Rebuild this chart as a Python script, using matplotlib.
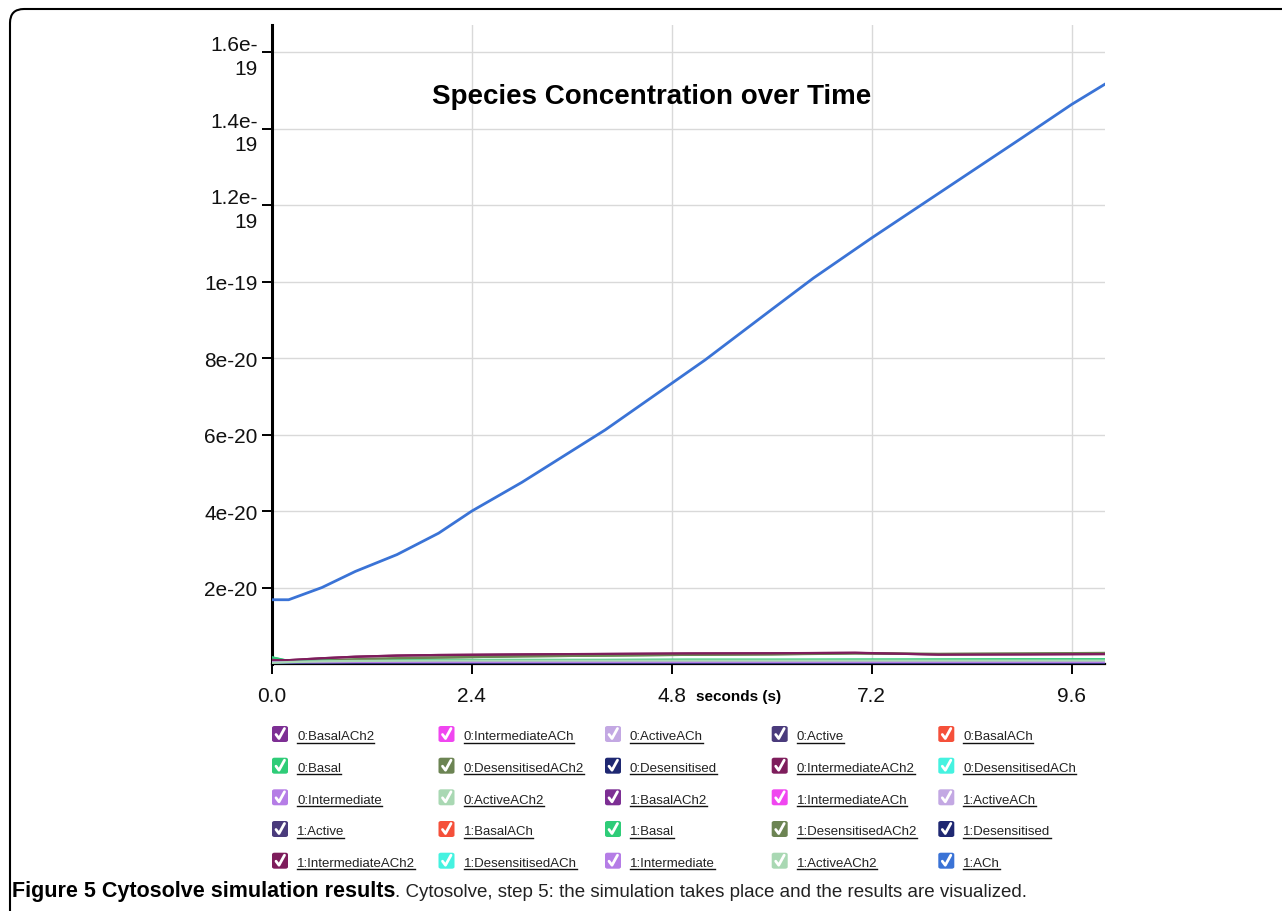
import matplotlib
matplotlib.use("Agg")
import matplotlib.pyplot as plt
from matplotlib.patches import FancyBboxPatch
from matplotlib.lines import Line2D
from matplotlib.transforms import IdentityTransform

font = "Liberation Sans"
plt.rcParams["font.family"] = [font, "DejaVu Sans"]

# ---------------- data ----------------
title = "Species Concentration over Time"
x_label = "seconds (s)"
x_ticks = [0.0, 2.4, 4.8, 7.2, 9.6]
x_tick_labels = ["0.0", "2.4", "4.8", "7.2", "9.6"]
y_ticks = [2e-20, 4e-20, 6e-20, 8e-20, 1e-19, 1.2e-19, 1.4e-19, 1.6e-19]
y_tick_labels = ["2e-20", "4e-20", "6e-20", "8e-20", "1e-19", "1.2e-\n19", "1.4e-\n19", "1.6e-\n19"]

# time grid for the blue ACh curve
t_ach = [0.0, 0.2, 0.6, 1.0, 1.5, 2.0, 2.4, 3.0, 4.0, 4.8, 5.2, 6.0, 6.5, 7.2, 8.0, 9.0, 9.6, 10.0]
ach_1 = [1.68e-20, 1.68e-20, 2.0e-20, 2.42e-20, 2.86e-20, 3.42e-20, 4.0e-20, 4.75e-20, 6.12e-20,
         7.34e-20, 7.95e-20, 9.27e-20, 1.009e-19, 1.114e-19, 1.23e-19, 1.375e-19, 1.463e-19, 1.516e-19]

# time grid for the small species (values in units of 1e-21)
t_small = [0.0, 0.2, 0.6, 1.0, 1.5, 2.0, 3.0, 4.0, 5.0, 6.0, 7.0, 8.0, 9.0, 10.0]
basal_ach2_0 = [0.3, 0.25, 0.4, 0.5, 0.55, 0.6, 0.65, 0.7, 0.7, 0.7, 0.7, 0.7, 0.7, 0.7]
intermediate_ach_0 = [0.2, 0.35, 0.4, 0.45, 0.45, 0.45, 0.5, 0.5, 0.5, 0.5, 0.5, 0.5, 0.5, 0.5]
active_ach_0 = [0.3, 0.4, 0.5, 0.6, 0.65, 0.7, 0.75, 0.8, 0.8, 0.8, 0.8, 0.8, 0.8, 0.8]
active_0 = [0.5, 0.4, 0.35, 0.3, 0.3, 0.3, 0.3, 0.3, 0.3, 0.3, 0.3, 0.3, 0.3, 0.3]
basal_ach_0 = [0.1, 0.2, 0.3, 0.35, 0.4, 0.4, 0.4, 0.4, 0.4, 0.4, 0.4, 0.4, 0.4, 0.4]
basal_0 = [1.75, 0.8, 0.9, 1.1, 1.1, 1.05, 1.05, 1.05, 1.1, 1.1, 1.15, 1.15, 1.2, 1.2]
desensitised_ach2_0 = [0.2, 0.4, 0.8, 1.2, 1.5, 1.7, 2.0, 2.2, 2.4, 2.5, 2.75, 2.6, 2.7, 2.85]
desensitised_0 = [0.1, 0.15, 0.2, 0.25, 0.25, 0.25, 0.25, 0.25, 0.25, 0.25, 0.25, 0.25, 0.25, 0.25]
intermediate_ach2_0 = [1.05, 1.0, 1.5, 1.9, 2.2, 2.35, 2.5, 2.6, 2.75, 2.8, 2.9, 2.5, 2.55, 2.6]
desensitised_ach_0 = [0.4, 0.5, 0.6, 0.65, 0.65, 0.65, 0.65, 0.65, 0.65, 0.65, 0.65, 0.65, 0.65, 0.65]
intermediate_0 = [0.5, 0.45, 0.45, 0.5, 0.5, 0.5, 0.5, 0.5, 0.5, 0.5, 0.5, 0.5, 0.5, 0.5]
active_ach2_0 = [0.3, 0.5, 0.7, 0.8, 0.85, 0.9, 0.9, 0.9, 0.9, 0.9, 0.9, 0.9, 0.9, 0.9]
basal_ach2_1 = [0.3, 0.3, 0.45, 0.5, 0.55, 0.6, 0.65, 0.7, 0.72, 0.72, 0.72, 0.72, 0.72, 0.72]
intermediate_ach_1 = [0.2, 0.3, 0.4, 0.45, 0.45, 0.5, 0.5, 0.5, 0.5, 0.5, 0.5, 0.5, 0.5, 0.5]
active_ach_1 = [0.3, 0.4, 0.55, 0.6, 0.65, 0.7, 0.75, 0.78, 0.8, 0.8, 0.8, 0.8, 0.8, 0.8]
active_1 = [0.5, 0.4, 0.35, 0.32, 0.3, 0.3, 0.3, 0.3, 0.3, 0.3, 0.3, 0.3, 0.3, 0.3]
basal_ach_1 = [0.1, 0.2, 0.3, 0.35, 0.4, 0.4, 0.4, 0.4, 0.4, 0.4, 0.4, 0.4, 0.4, 0.4]
basal_1 = [1.7, 0.75, 0.9, 1.05, 1.1, 1.05, 1.05, 1.05, 1.1, 1.1, 1.1, 1.15, 1.2, 1.2]
desensitised_ach2_1 = [0.2, 0.4, 0.8, 1.2, 1.5, 1.7, 2.0, 2.2, 2.4, 2.55, 2.8, 2.65, 2.75, 2.9]
desensitised_1 = [0.1, 0.15, 0.2, 0.25, 0.25, 0.25, 0.25, 0.25, 0.25, 0.25, 0.25, 0.25, 0.25, 0.25]
intermediate_ach2_1 = [1.05, 1.0, 1.5, 1.9, 2.2, 2.35, 2.5, 2.65, 2.75, 2.8, 2.95, 2.45, 2.5, 2.6]
desensitised_ach_1 = [0.4, 0.5, 0.6, 0.65, 0.65, 0.65, 0.65, 0.65, 0.65, 0.65, 0.65, 0.65, 0.65, 0.65]
intermediate_1 = [0.5, 0.45, 0.45, 0.5, 0.5, 0.5, 0.5, 0.5, 0.5, 0.5, 0.5, 0.5, 0.5, 0.5]
active_ach2_1 = [0.3, 0.5, 0.7, 0.8, 0.85, 0.9, 0.9, 0.9, 0.9, 0.9, 0.9, 0.9, 0.9, 0.9]

legend_labels = ["0:BasalACh2", "0:IntermediateACh", "0:ActiveACh", "0:Active", "0:BasalACh",
                 "0:Basal", "0:DesensitisedACh2", "0:Desensitised", "0:IntermediateACh2", "0:DesensitisedACh",
                 "0:Intermediate", "0:ActiveACh2", "1:BasalACh2", "1:IntermediateACh", "1:ActiveACh",
                 "1:Active", "1:BasalACh", "1:Basal", "1:DesensitisedACh2", "1:Desensitised",
                 "1:IntermediateACh2", "1:DesensitisedACh", "1:Intermediate", "1:ActiveACh2", "1:ACh"]
small_series = [basal_ach2_0, intermediate_ach_0, active_ach_0, active_0, basal_ach_0,
                basal_0, desensitised_ach2_0, desensitised_0, intermediate_ach2_0, desensitised_ach_0,
                intermediate_0, active_ach2_0, basal_ach2_1, intermediate_ach_1, active_ach_1,
                active_1, basal_ach_1, basal_1, desensitised_ach2_1, desensitised_1,
                intermediate_ach2_1, desensitised_ach_1, intermediate_1, active_ach2_1]
palette = ["#7d2f94", "#f046f0", "#c3a8e3", "#4a3b7c", "#f5503a", "#2fcc78",
           "#6c8453", "#1f2872", "#7e1d5c", "#45f2e0", "#b57de6", "#a9d8b3"]
ach_color = "#3a73d6"

caption_bold = "Figure 5 Cytosolve simulation results"
caption_rest = ". Cytosolve, step 5: the simulation takes place and the results are visualized."

# ---------------- figure ----------------
W, H = 1282, 912
fig = plt.figure(figsize=(W / 100, H / 100), dpi=100)
fig.patch.set_facecolor("white")

def fx(px):
    return px / W

def fy(py):
    return 1 - py / H

ax_left, ax_right, ax_top, ax_bottom = 272, 1105, 26, 665
ax = fig.add_axes([fx(ax_left), fy(ax_bottom), fx(ax_right - ax_left), (ax_bottom - ax_top) / H])

for i, vals in enumerate(small_series):
    ax.plot(t_small, [v * 1e-21 for v in vals], color=palette[i % 12], lw=1.6, zorder=3)
ax.plot(t_ach, ach_1, color=ach_color, lw=2.0, zorder=4)

ax.set_xlim(0, 10)
ax.set_ylim(0, 1.6706e-19)
ax.set_xticks(x_ticks)
ax.set_xticklabels(x_tick_labels)
ax.set_yticks(y_ticks)
ax.set_yticklabels(y_tick_labels)
for lab in ax.get_yticklabels():
    lab.set_linespacing(1.3)
    lab.set_multialignment("right")
ax.tick_params(axis="both", direction="out", length=7.5, width=1.4, color="black",
               labelsize=15, labelcolor="#111111")
ax.tick_params(axis="x", pad=8)
ax.tick_params(axis="y", pad=3)
ax.grid(True, color="#d9d9d9", lw=1.0, zorder=0)
ax.set_axisbelow(True)
for s in ["top", "right"]:
    ax.spines[s].set_visible(False)
ax.spines["left"].set_linewidth(2.2)
ax.spines["bottom"].set_linewidth(1.6)
ax.patch.set_alpha(0)

fig.text(fx(652), fy(97), title, ha="center", va="center", fontsize=20, fontweight="bold")
fig.text(fx(739), fy(697), x_label, ha="center", va="center", fontsize=11, fontweight="bold")

# ---------------- legend ----------------
col_left = [272, 438.5, 605, 771.7, 938.3]
row_center = [735, 766.7, 798.3, 830, 861.7]
box = 16
legend_colors = [palette[i % 12] for i in range(24)] + [ach_color]
label_texts = []
for i, (lab, col) in enumerate(zip(legend_labels, legend_colors)):
    r, c = divmod(i, 5)
    x0 = col_left[c]
    yc = row_center[r]
    rect = FancyBboxPatch((fx(x0), fy(yc + box / 2)), box / W, box / H,
                          boxstyle="round,pad=0,rounding_size=0.002",
                          transform=fig.transFigure, facecolor=col, edgecolor="none")
    fig.add_artist(rect)
    cx = [x0 + 4, x0 + 7, x0 + 12.5]
    cy = [yc + 0.5, yc + 4.5, yc - 5.5]
    fig.add_artist(Line2D([fx(v) for v in cx], [fy(v) for v in cy], color="white", lw=2.0,
                          solid_capstyle="round", solid_joinstyle="round", transform=fig.transFigure))
    t = fig.text(fx(x0 + 25), fy(yc + 5.5), lab, ha="left", va="baseline", fontsize=9.5,
                 color="#222222")
    label_texts.append((t, yc))

fig.canvas.draw()
renderer = fig.canvas.get_renderer()
for t, yc in label_texts:
    bb = t.get_window_extent(renderer)
    fig.add_artist(Line2D([fx(bb.x0), fx(bb.x1)], [fy(yc + 8.5), fy(yc + 8.5)],
                          color="#111111", lw=1.0, transform=fig.transFigure))

# ---------------- caption ----------------
tb = fig.text(fx(12), fy(897), caption_bold, ha="left", va="baseline", fontsize=15.5,
              fontweight="bold", color="black")
fig.canvas.draw()
bb = tb.get_window_extent(renderer)
fig.text(bb.x1 / W, fy(897), caption_rest, ha="left", va="baseline", fontsize=13.5,
         color="#222222")

# ---------------- rounded border ----------------
border = FancyBboxPatch((10, -60), 1400, H - 10 + 60, boxstyle="round,pad=0,rounding_size=14",
                        transform=IdentityTransform(), facecolor="none", edgecolor="black", lw=1.5)
fig.add_artist(border)

fig.savefig("out.png", dpi=100)
